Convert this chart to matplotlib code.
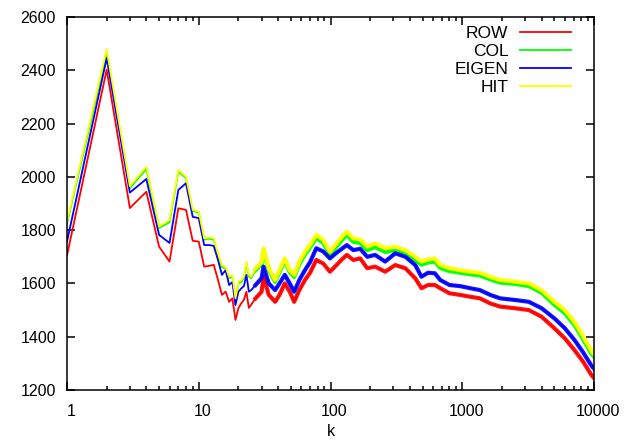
import numpy as np
import matplotlib
matplotlib.use("Agg")
import matplotlib.pyplot as plt
import matplotlib.transforms as mtransforms
from matplotlib.ticker import LogLocator, FixedLocator, NullFormatter

plt.rcParams['font.family'] = ['Liberation Sans', 'DejaVu Sans']

k = [1, 2, 3, 4, 5, 6, 7, 8, 9, 10, 11, 12, 13, 14, 15, 16, 17, 18, 19, 20,
     21, 22, 23, 24, 25, 27, 30, 31, 34, 38, 41, 45, 49, 53, 58, 64, 70, 78,
     88, 99, 111, 122, 133, 149, 168, 190, 218, 260, 310, 370, 440, 490, 550,
     620, 680, 800, 960, 1150, 1360, 1630, 1940, 2500, 3200, 4000, 5000, 6000,
     7100, 8300, 9600, 10000]

row = [1705, 2402, 1883, 1944, 1738, 1682, 1882, 1876, 1760, 1757, 1663, 1666,
       1670, 1613, 1557, 1569, 1531, 1544, 1463, 1507, 1525, 1538, 1569, 1508,
       1520, 1544, 1569, 1625, 1557, 1531, 1557, 1600, 1569, 1531, 1575, 1613,
       1640, 1688, 1675, 1644, 1669, 1690, 1707, 1688, 1694, 1657, 1663, 1644,
       1669, 1657, 1619, 1582, 1594, 1594, 1582, 1563, 1557, 1550, 1544, 1525,
       1513, 1507, 1500, 1475, 1432, 1394, 1350, 1305, 1255, 1245]

col = [1825, 2465, 1958, 2030, 1808, 1830, 2020, 1995, 1872, 1866, 1765, 1768,
       1764, 1708, 1662, 1655, 1620, 1625, 1540, 1600, 1606, 1620, 1676, 1626,
       1620, 1650, 1672, 1725, 1650, 1606, 1642, 1686, 1642, 1624, 1672, 1708,
       1735, 1770, 1752, 1708, 1738, 1762, 1782, 1756, 1752, 1725, 1736, 1718,
       1724, 1712, 1688, 1670, 1678, 1682, 1658, 1646, 1640, 1634, 1630, 1615,
       1603, 1598, 1590, 1565, 1520, 1488, 1444, 1388, 1335, 1325]

eigen = [1757, 2445, 1941, 1992, 1782, 1752, 1951, 1976, 1850, 1845, 1744, 1744,
         1741, 1688, 1632, 1650, 1594, 1605, 1519, 1569, 1581, 1590, 1632, 1569,
         1575, 1594, 1620, 1663, 1600, 1575, 1600, 1632, 1600, 1569, 1613, 1650,
         1680, 1732, 1720, 1694, 1715, 1730, 1744, 1725, 1730, 1700, 1707, 1682,
         1713, 1700, 1669, 1625, 1640, 1638, 1613, 1594, 1590, 1582, 1575, 1557,
         1544, 1538, 1531, 1507, 1469, 1432, 1388, 1340, 1290, 1280]

hit = [1832, 2479, 1965, 2038, 1813, 1838, 2026, 2000, 1876, 1870, 1769, 1773,
       1769, 1713, 1669, 1660, 1625, 1630, 1544, 1606, 1612, 1625, 1682, 1632,
       1625, 1657, 1680, 1732, 1657, 1613, 1650, 1694, 1650, 1632, 1682, 1719,
       1745, 1782, 1763, 1719, 1750, 1775, 1794, 1769, 1765, 1738, 1750, 1732,
       1738, 1725, 1700, 1682, 1690, 1694, 1669, 1657, 1650, 1644, 1640, 1625,
       1613, 1607, 1600, 1575, 1531, 1500, 1456, 1400, 1345, 1335]

series = [("ROW", row, "#ff0000"), ("COL", col, "#00ff00"),
          ("EIGEN", eigen, "#0000ff"), ("HIT", hit, "#ffff00")]

fig = plt.figure(figsize=(6.34, 4.42), dpi=100)
ax = fig.add_axes([67 / 634, 1 - 390 / 442, 527 / 634, 373 / 442])

k_arr = np.array(k)
noisy = k_arr >= 27
for name, vals, color in series:
    v = np.array(vals)
    ax.plot(k_arr, v, color=color, lw=1.3, label=name)
    # the measured curves are jittery past k~30, so draw that part thicker
    ax.plot(k_arr[noisy], v[noisy], color=color, lw=3.0, alpha=0.9)

ax.set_xscale("log")
ax.set_xlim(1, 10000)
ax.set_ylim(1200, 2600)
ax.xaxis.set_major_locator(FixedLocator([1, 10, 100, 1000, 10000]))
ax.set_xticklabels(["1", "10", "100", "1000", "10000"])
ax.xaxis.set_minor_locator(LogLocator(base=10, subs=np.arange(2, 10)))
ax.xaxis.set_minor_formatter(NullFormatter())
ax.set_yticks(np.arange(1200, 2601, 200))

ax.tick_params(which="both", direction="in", top=True, right=True,
               labelsize=11.5, width=1.1)
ax.tick_params(which="major", length=6)
ax.tick_params(which="minor", length=3)
ax.tick_params(axis="x", which="major", pad=10)
ax.tick_params(axis="y", which="major", pad=8)
for s in ax.spines.values():
    s.set_linewidth(1.1)

# gnuplot puts the x labels a few pixels right of the tick
shift = mtransforms.ScaledTranslation(4 / 100, 0, fig.dpi_scale_trans)
for lab in ax.get_xticklabels():
    lab.set_transform(lab.get_transform() + shift)

ax.set_xlabel("k", fontsize=11.5, labelpad=4)

leg = ax.legend(loc="upper right", bbox_to_anchor=(0.979, 1.008), frameon=False,
                markerfirst=False, fontsize=12.5, handlelength=2.9,
                handletextpad=0.7, labelspacing=0.16, borderaxespad=0.3)

fig.savefig("out.png", dpi=100)
